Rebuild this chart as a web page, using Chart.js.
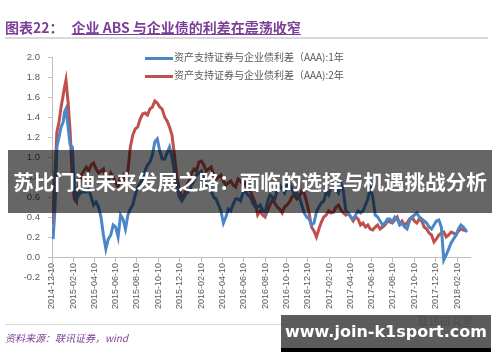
<!DOCTYPE html>
<html>
<head>
<meta charset="utf-8">
<script src="https://cdn.jsdelivr.net/npm/chart.js@4"></script>
<style>
    body { margin: 0; background: #fff; }
    #wrap { position: relative; width: 500px; height: 362px; overflow: hidden; font-family: "Noto Sans CJK SC", "Liberation Sans", sans-serif; }
    #myChart { position: absolute; left: 0; top: 0; }
    .abs { position: absolute; white-space: nowrap; }
    #title { left: 5px; top: 17px; font-size: 14px; font-weight: bold; color: #7b3f98; }
    #title span { text-decoration: underline; margin-left: 8px; }
    #rule { left: 5px; top: 37px; width: 483px; height: 2px; background: #d9d9d9; }
    .leg { left: 145px; font-size: 10px; color: #595959; line-height: 12px; }
    .leg i { display: inline-block; width: 28px; height: 3px; vertical-align: middle; margin-right: 1px; }
    #foot { left: 5px; top: 324px; width: 470px; height: 1px; background: #d9d9d9; }
    #src { left: 5px; top: 330px; font-size: 10px; font-style: italic; color: #7b3f98; }
    #lab { left: 418px; top: 313px; font-size: 11px; color: #777; }
    #banner { left: 8px; top: 150px; width: 484px; height: 63px; background: rgba(0,0,0,0.6); color: #fff; font-size: 20.6px; font-weight: bold; text-align: center; line-height: 63px; }
    #mark { left: 281px; top: 315px; width: 210px; height: 33px; background: rgba(70,70,70,0.88); border-bottom: 4px solid #000; color: #fff; font-family: "DejaVu Sans", sans-serif; font-size: 16px; font-weight: bold; text-align: center; line-height: 33px; }
</style>
</head>
<body>
<div id="wrap">
    <canvas id="myChart" width="500" height="362"></canvas>
    <div class="abs" id="title">图表22：<span>企业 ABS 与企业债的利差在震荡收窄</span></div>
    <div class="abs" id="rule"></div>
    <div class="abs leg" style="top:51px"><i style="background:#4a86c8"></i>资产支持证券与企业债利差（AAA):1年</div>
    <div class="abs leg" style="top:69px"><i style="background:#c0504d"></i>资产支持证券与企业债利差（AAA):2年</div>
    <div class="abs" id="foot"></div>
    <div class="abs" id="src">资料来源：联讯证券，wind</div>
    <div class="abs" id="lab">联讯研究室</div>
    <div class="abs" id="banner">苏比门迪未来发展之路：面临的选择与机遇挑战分析</div>
    <div class="abs" id="mark">www.join-k1sport.com</div>
</div>
<script>
// dates of the main points (2-week steps, denser around the first peak)
var dates = [
    "2014-12-10", "2014-12-13", "2014-12-18", "2014-12-24", "2014-12-30", "2015-01-05", "2015-01-11", "2015-01-15",
    "2015-01-19", "2015-01-25", "2015-01-31", "2015-02-06", "2015-02-12", "2015-02-18", "2015-02-25", "2015-03-04",
    "2015-03-18", "2015-04-01", "2015-04-15", "2015-04-29", "2015-05-13", "2015-05-27", "2015-06-10", "2015-06-24",
    "2015-07-08", "2015-07-22", "2015-08-05", "2015-08-19", "2015-09-02", "2015-09-16", "2015-09-30", "2015-10-14",
    "2015-10-28", "2015-11-11", "2015-11-25", "2015-12-09", "2015-12-23",
    "2016-01-06", "2016-01-20", "2016-02-03", "2016-02-17", "2016-03-02", "2016-03-16", "2016-03-30", "2016-04-13",
    "2016-04-27", "2016-05-11", "2016-05-25", "2016-06-08", "2016-06-22", "2016-07-06", "2016-07-20", "2016-08-03",
    "2016-08-17", "2016-08-31", "2016-09-14", "2016-09-28", "2016-10-12", "2016-10-26", "2016-11-09", "2016-11-23",
    "2016-12-07", "2016-12-21",
    "2017-01-04", "2017-01-18", "2017-02-01", "2017-02-15", "2017-03-01", "2017-03-15", "2017-03-29", "2017-04-12",
    "2017-04-26", "2017-05-10", "2017-05-24", "2017-06-07", "2017-06-21", "2017-07-05", "2017-07-19", "2017-08-02",
    "2017-08-16", "2017-08-30", "2017-09-13", "2017-09-27", "2017-10-11", "2017-10-25", "2017-11-08", "2017-11-22",
    "2017-12-06", "2017-12-20",
    "2018-01-03", "2018-01-17", "2018-01-31", "2018-02-14", "2018-02-28", "2018-03-10"
];

// 1年
var spread1y = [
    0.30, 0.18, 0.45, 1.10, 1.20, 1.30, 1.35, 1.45,
    1.48, 1.30, 1.12, 1.10, 0.70, 0.58, 0.62, 0.65,
    0.65, 0.60, 0.55, 0.40, 0.08, 0.22, 0.30, 0.42,
    0.28, 0.48, 0.62, 0.74, 0.86, 0.95, 1.15, 1.06,
    0.98, 1.10, 0.85, 0.60, 0.60,
    0.66, 0.76, 0.84, 0.78, 0.70, 0.60, 0.52, 0.34,
    0.48, 0.53, 0.58, 0.64, 0.62, 0.54, 0.50, 0.47,
    0.55, 0.60, 0.67, 0.68, 0.72, 0.68, 0.64, 0.52,
    0.40, 0.32,
    0.45, 0.54, 0.65, 0.70, 0.68, 0.74, 0.46, 0.40,
    0.42, 0.44, 0.52, 0.70, 0.42, 0.36, 0.34, 0.38,
    0.40, 0.32, 0.30, 0.36, 0.42, 0.40, 0.36, 0.30,
    0.32, 0.37,
    -0.03, 0.08, 0.18, 0.28, 0.30, 0.25
];

// 2年
var spread2y = [
    0.55, 0.32, 0.80, 1.25, 1.35, 1.50, 1.62, 1.70,
    1.77, 1.55, 1.25, 0.80, 0.58, 0.55, 0.72, 0.82,
    0.90, 0.92, 0.88, 0.86, 0.78, 0.84, 0.74, 0.80,
    0.72, 1.10, 1.28, 1.38, 1.44, 1.48, 1.56, 1.50,
    1.40, 1.30, 1.02, 0.68, 0.62,
    0.76, 0.88, 0.95, 0.92, 0.88, 0.82, 0.80, 0.76,
    0.74, 0.72, 0.78, 0.72, 0.68, 0.60, 0.42, 0.42,
    0.46, 0.57, 0.50, 0.44, 0.52, 0.60, 0.58, 0.66,
    0.55, 0.30,
    0.20, 0.35, 0.42, 0.44, 0.50, 0.47, 0.42, 0.40,
    0.40, 0.32, 0.30, 0.28, 0.30, 0.28, 0.32, 0.35,
    0.37, 0.33, 0.32, 0.38, 0.36, 0.38, 0.30, 0.24,
    0.15, 0.22,
    0.25, 0.22, 0.24, 0.26, 0.27, 0.26
];

// in-between weekly readings (the wiggle of the lines)
var midDates = [
    "2015-03-25", "2015-04-08", "2015-04-22", "2015-05-06", "2015-05-20", "2015-06-03", "2015-06-17", "2015-07-01",
    "2015-07-15", "2015-07-29", "2015-08-12", "2015-08-26", "2015-09-09", "2015-09-23", "2015-10-07", "2015-10-21",
    "2015-11-04", "2015-11-18", "2015-12-02", "2015-12-16", "2015-12-30",
    "2016-01-13", "2016-01-27", "2016-02-10", "2016-02-24", "2016-03-09", "2016-03-23", "2016-04-06", "2016-04-20",
    "2016-05-04", "2016-05-18", "2016-06-01", "2016-06-15", "2016-06-29", "2016-07-13", "2016-07-27", "2016-08-10",
    "2016-08-24", "2016-09-07", "2016-09-21", "2016-10-05", "2016-10-19", "2016-11-02", "2016-11-16", "2016-11-30",
    "2016-12-14", "2016-12-28",
    "2017-01-11", "2017-01-25", "2017-02-08", "2017-02-22", "2017-03-08", "2017-03-22", "2017-04-05", "2017-04-19",
    "2017-05-03", "2017-05-17", "2017-05-31", "2017-06-14", "2017-06-28", "2017-07-12", "2017-07-26", "2017-08-09",
    "2017-08-23", "2017-09-06", "2017-09-20", "2017-10-04", "2017-10-18", "2017-11-01", "2017-11-15", "2017-11-29",
    "2017-12-13", "2017-12-27",
    "2018-01-10", "2018-01-24", "2018-02-07", "2018-02-21"
];

var mid1y = [
    0.68, 0.52, 0.50, 0.22, 0.18, 0.32, 0.20, 0.38,
    0.42, 0.52, 0.70, 0.78, 0.92, 1.02, 1.18, 0.98,
    1.04, 1.00, 0.70, 0.56, 0.64,
    0.72, 0.82, 0.86, 0.72, 0.66, 0.58, 0.46, 0.40,
    0.46, 0.58, 0.56, 0.66, 0.60, 0.50, 0.52, 0.44,
    0.62, 0.58, 0.72, 0.64, 0.74, 0.62, 0.60, 0.44,
    0.38, 0.34,
    0.50, 0.56, 0.62, 0.72, 0.64, 0.66, 0.44, 0.38,
    0.46, 0.46, 0.58, 0.60, 0.40, 0.32, 0.38, 0.35,
    0.38, 0.34, 0.28, 0.40, 0.44, 0.38, 0.34, 0.28,
    0.36, 0.30,
    0.02, 0.14, 0.22, 0.32
];

var mid2y = [
    0.86, 0.94, 0.84, 0.88, 0.76, 0.80, 0.70, 0.82,
    0.86, 1.22, 1.30, 1.43, 1.42, 1.50, 1.54, 1.48,
    1.36, 1.22, 0.80, 0.60, 0.72,
    0.84, 0.86, 0.96, 0.86, 0.90, 0.78, 0.82, 0.72,
    0.76, 0.70, 0.76, 0.74, 0.66, 0.54, 0.46, 0.40,
    0.52, 0.54, 0.48, 0.50, 0.55, 0.62, 0.60, 0.64,
    0.44, 0.26,
    0.28, 0.40, 0.46, 0.45, 0.52, 0.44, 0.44, 0.36,
    0.38, 0.34, 0.32, 0.27, 0.32, 0.30, 0.36, 0.34,
    0.40, 0.36, 0.34, 0.40, 0.34, 0.36, 0.28, 0.22,
    0.18, 0.24,
    0.20, 0.25, 0.22, 0.28
];

var tickLabels = [
    "2014-12-10", "2015-02-10", "2015-04-10", "2015-06-10", "2015-08-10", "2015-10-10", "2015-12-10",
    "2016-02-10", "2016-04-10", "2016-06-10", "2016-08-10", "2016-10-10", "2016-12-10",
    "2017-02-10", "2017-04-10", "2017-06-10", "2017-08-10", "2017-10-10", "2017-12-10", "2018-02-10"
];

var day0 = Date.parse("2014-12-10");
function toDay(s) {
    return Math.round((Date.parse(s) - day0) / 86400000);
}
var tickDays = tickLabels.map(toDay);

// merge main and in-between readings, sorted by date
function points(values, extra) {
    var pts = values.map(function (v, i) {
        return { x: toDay(dates[i]), y: v };
    });
    extra.forEach(function (v, i) {
        pts.push({ x: toDay(midDates[i]), y: v });
    });
    pts.sort(function (a, b) { return a.x - b.x; });
    return pts;
}

var axisColor = "#bfbfbf";
var textColor = "#595959";

var ctx = document.getElementById("myChart").getContext("2d");
var myChart = new Chart(ctx, {
    type: "line",
    data: {
        datasets: [
            {
                label: "资产支持证券与企业债利差（AAA):1年",
                data: points(spread1y, mid1y),
                borderColor: "#4a86c8",
                borderWidth: 3,
                pointRadius: 0,
                tension: 0
            },
            {
                label: "资产支持证券与企业债利差（AAA):2年",
                data: points(spread2y, mid2y),
                borderColor: "#c0504d",
                borderWidth: 3,
                pointRadius: 0,
                tension: 0
            }
        ]
    },
    options: {
        responsive: false,
        animation: false,
        devicePixelRatio: 1,
        layout: {
            padding: { left: 0, top: 57, right: 30, bottom: 85 }
        },
        plugins: {
            legend: { display: false },
            tooltip: { enabled: false }
        },
        scales: {
            x: {
                type: "linear",
                position: { y: 0 },
                min: 0,
                max: 1195,
                afterBuildTicks: function (scale) {
                    scale.ticks = tickDays.map(function (d) { return { value: d }; });
                },
                grid: { drawOnChartArea: false, drawTicks: true, tickLength: 4, color: axisColor },
                border: { color: axisColor },
                ticks: {
                    autoSkip: false,
                    minRotation: 90,
                    maxRotation: 90,
                    padding: 2,
                    color: textColor,
                    font: { family: "Liberation Sans", size: 9 },
                    callback: function (value) {
                        var k = tickDays.indexOf(value);
                        return k >= 0 ? tickLabels[k] : "";
                    }
                }
            },
            y: {
                min: -0.2,
                max: 2.0,
                afterFit: function (scale) { scale.width = 52; },
                grid: { drawOnChartArea: false, drawTicks: true, tickLength: 4, color: axisColor },
                border: { color: axisColor },
                ticks: {
                    stepSize: 0.2,
                    padding: 8,
                    color: textColor,
                    font: { family: "Liberation Sans", size: 9.5 },
                    callback: function (v) {
                        return (Math.abs(v) < 1e-9 ? 0 : v).toFixed(1);
                    }
                }
            }
        }
    }
});
</script>
</body>
</html>
